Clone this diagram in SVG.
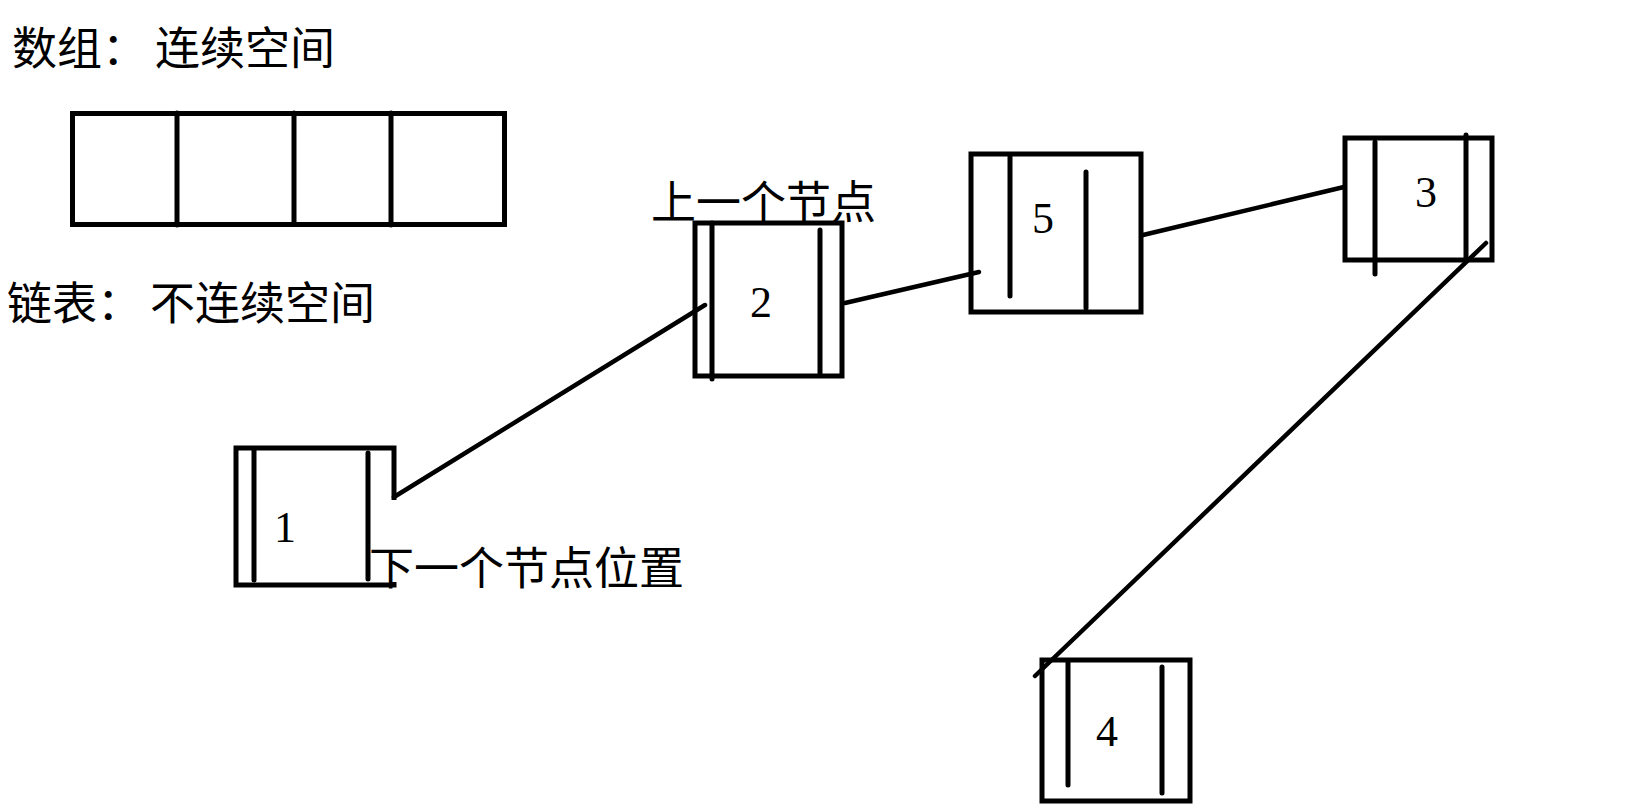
<svg xmlns="http://www.w3.org/2000/svg" width="1640" height="812" viewBox="0 0 1640 812">
<style>
.box{fill:none;stroke:#000;stroke-width:5}
.ln{stroke:#000;stroke-width:5;stroke-linecap:round;fill:none}
.cn{stroke:#000;stroke-width:4.5;stroke-linecap:round;fill:none}
.num{font-family:"Liberation Serif","Times New Roman",serif;font-size:44px;fill:#000;text-anchor:middle}
.cjk{font-family:"Liberation Serif","Noto Sans CJK SC",sans-serif;font-size:45px;fill:#000}
</style>
<rect width="1640" height="812" fill="#fff"/>
<g id="title-array"><text class="cjk" y="65"><tspan x="12">数组：</tspan><tspan x="155">连续空间</tspan></text></g>
<g id="title-list"><text class="cjk" y="320"><tspan x="7">链表：</tspan><tspan x="150">不连续空间</tspan></text></g>
<g id="array">
<rect class="box" x="72.5" y="113.5" width="432" height="111"/>
<line class="ln" x1="177" y1="113" x2="177" y2="225"/>
<line class="ln" x1="294" y1="113" x2="294" y2="222"/>
<line class="ln" x1="391" y1="113" x2="391" y2="225"/>
</g>
<g id="connectors">
<line class="cn" x1="394" y1="497" x2="705" y2="305"/>
<line class="cn" x1="845" y1="303" x2="979" y2="272"/>
<line class="cn" x1="1143" y1="235" x2="1344" y2="187"/>
<line class="cn" x1="1486" y1="243" x2="1035" y2="676"/>
</g>
<g id="node1">
<rect class="box" x="236" y="448" width="158" height="137"/>
<line class="ln" x1="254" y1="450" x2="254" y2="580"/>
<line class="ln" x1="368" y1="453" x2="368" y2="579"/>
<text class="num" x="285" y="542">1</text>
</g>
<g id="node2">
<rect class="box" x="695" y="223" width="147" height="153"/>
<line class="ln" x1="712" y1="223" x2="712" y2="379"/>
<line class="ln" x1="820" y1="230" x2="820" y2="373"/>
<text class="num" x="761" y="317">2</text>
</g>
<g id="node5">
<rect class="box" x="971" y="154" width="170" height="158"/>
<line class="ln" x1="1010" y1="157" x2="1010" y2="296"/>
<line class="ln" x1="1086" y1="172" x2="1086" y2="308"/>
<text class="num" x="1043" y="233">5</text>
</g>
<g id="node3">
<rect class="box" x="1345" y="138" width="147" height="122"/>
<line class="ln" x1="1375" y1="142" x2="1375" y2="274"/>
<line class="ln" x1="1466" y1="135" x2="1466" y2="260"/>
<text class="num" x="1426" y="207">3</text>
</g>
<g id="node4">
<rect class="box" x="1042" y="660" width="148" height="141"/>
<line class="ln" x1="1068" y1="662" x2="1068" y2="785"/>
<line class="ln" x1="1162" y1="667" x2="1162" y2="793"/>
<text class="num" x="1107" y="746">4</text>
</g>
<g id="label-prev"><text class="cjk" x="651" y="219">上一个节点</text></g>
<g id="label-next">
<rect x="371" y="500" width="30" height="82" fill="#fff"/>
<text class="cjk" x="369" y="585">下一个节点位置</text>
</g>
</svg>
